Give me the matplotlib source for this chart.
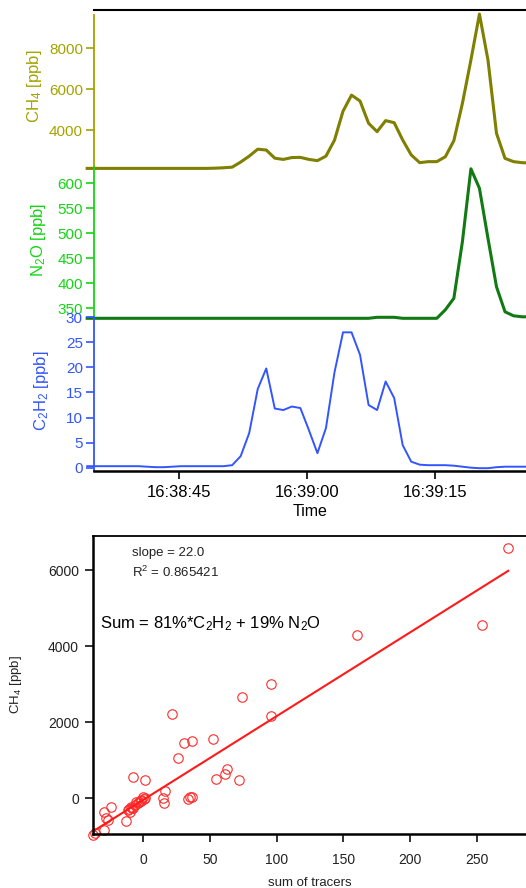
import numpy as np
import pandas as pd
import matplotlib
matplotlib.use("Agg")
import matplotlib.pyplot as plt
import matplotlib.dates as mdates

plt.rcParams['font.family'] = ['Liberation Sans', 'DejaVu Sans']
plt.rcParams['mathtext.fontset'] = 'custom'
plt.rcParams['mathtext.rm'] = 'Liberation Sans'
plt.rcParams['mathtext.it'] = 'Liberation Sans'

# --- time series (1 s samples) ---
times = pd.date_range("2000-01-01 16:38:34.200", periods=53, freq="1s")

ch4 = [2120] * 15 + [2130, 2150, 2180, 2430, 2720, 3060, 3020, 2620, 2560, 2650,
                     2660, 2560, 2500, 2720, 3500, 4920, 5710, 5420, 4330, 3920,
                     4460, 4360, 3510, 2780, 2400, 2450, 2450, 2690, 3480, 5300,
                     7430, 9680, 7430, 3840, 2610, 2450, 2400, 2380]

n2o = [330] * 34 + [332, 332, 332] + [330] * 5 + [347, 370, 483, 629, 590, 490,
                                                  393, 343, 335, 333, 333]

c2h2 = [0.3] * 7 + [0.2, 0.1, 0.1, 0.2] + [0.3] * 6 + [
    0.5, 2.3, 6.9, 15.7, 19.8, 11.8, 11.5, 12.2, 11.9, 7.5, 2.9, 7.9, 19.0, 27.0,
    27.0, 22.5, 12.5, 11.5, 17.2, 13.9, 4.5, 1.2, 0.6, 0.5, 0.5, 0.5, 0.4, 0.2,
    0.0, -0.1, -0.1, 0.1, 0.2, 0.2, 0.2, 0.2]

# --- scatter: CH4 excess vs weighted sum of tracers ---
tracer_sum = [21.3, 30.3, 36.3, 52.1, 25.8, -7.7, 1.0, 16.0, 14.8, 15.5, 33.5, 34.8,
              36.5, 54.3, 61.1, 62.8, 71.8, 74.0, 95.6, 95.6, 160.0, 254.3, 273.8,
              -24.0, -29.7, -26.5, -28.0, -12.8, -29.7, -36.5, -37.5, -11.5, -10.2,
              -9.0, -7.7, -6.5, -5.2, -4.0, -1.5, -0.2, 1.0, -8.5, -3.0, -2.0, 0.5,
              -10.8]
ch4_excess = [2210, 1460, 1500, 1560, 1050, 568, 481, 200, 0, -132, -26, 42,
              26, 516, 631, 771, 481, 2672, 2172, 2998, 4295, 4566, 6575,
              -220, -368, -570, -520, -597, -834, -921, -960, -308, -352,
              -220, -264, -177, -89, -133, -45, 43, 0, -250, -100, -60, -20,
              -290]
slope = 22.0
intercept = -40.0
r2 = 0.865421

ch4_line, ch4_axis = '#7f7f00', '#a3a300'
n2o_line, n2o_axis = '#127a12', '#14d414'
c2h2_col = '#3355ff'

W, H = 526, 888
fig = plt.figure(figsize=(W / 100, H / 100), dpi=100)


def px_axes(left, top, right, bottom):
    return fig.add_axes([left / W, 1 - bottom / H, (right - left) / W, (bottom - top) / H])


t0 = pd.Timestamp("2000-01-01 16:38:35")
t1 = t0 + pd.Timedelta(seconds=50.66)


def style_trace(ax, col, label, lab_x):
    ax.set_facecolor('none')
    for s in ['right', 'bottom', 'top']:
        ax.spines[s].set_visible(False)
    ax.spines['left'].set_color(col)
    ax.spines['left'].set_linewidth(1.3)
    ax.tick_params(axis='y', colors=col, labelsize=11, length=6, width=1.2, pad=2)
    ax.set_ylabel(label, color=col, fontsize=12)
    ax.yaxis.set_label_coords(lab_x, 0.52)
    ax.set_xlim(t0, t1)
    ax.xaxis.set_visible(False)


ax1 = px_axes(94, 10, 526, 169)
ax1.plot(times, ch4, color=ch4_line, lw=2.2, clip_on=False)
style_trace(ax1, ch4_axis, 'CH$_4$ [ppb]', -0.115)
ax1.set_ylim(2090, 9880)
ax1.set_yticks([4000, 6000, 8000])
ax1.spines['left'].set_bounds(2090, 9630)
ax1.spines['top'].set_visible(True)
ax1.spines['top'].set_color('black')
ax1.spines['top'].set_linewidth(1.5)

ax2 = px_axes(94, 167, 526, 318.5)
ax2.plot(times, n2o, color=n2o_line, lw=2.2, clip_on=False)
style_trace(ax2, n2o_axis, 'N$_2$O [ppb]', -0.107)
ax2.set_ylim(329.6, 632.6)
ax2.set_yticks([350, 400, 450, 500, 550, 600])

ax3 = px_axes(94, 317.3, 526, 471)
ax3.plot(times, c2h2, color=c2h2_col, lw=1.4, clip_on=False)
style_trace(ax3, c2h2_col, 'C$_2$H$_2$ [ppb]', -0.100)
ax3.set_ylim(-0.66, 30)
ax3.set_yticks([0, 5, 10, 15, 20, 25, 30])
ax3.xaxis.set_visible(True)
ax3.spines['bottom'].set_visible(True)
ax3.spines['bottom'].set_color('black')
ax3.spines['bottom'].set_linewidth(1.8)
ax3.xaxis.set_major_locator(mdates.SecondLocator(bysecond=[0, 15, 30, 45]))
ax3.xaxis.set_major_formatter(mdates.DateFormatter('%H:%M:%S'))
ax3.tick_params(axis='x', colors='black', labelsize=12, length=6, width=1.2, pad=4)
ax3.set_xlabel('Time', fontsize=11.5, labelpad=3)

# --- scatter panel ---
ax4 = px_axes(93, 536, 526, 834)
ax4.plot(tracer_sum, ch4_excess, 'o', mfc='none', mec='#ff2a2a', ms=6.8, mew=0.8,
         clip_on=False)
xs = np.array([min(tracer_sum), max(tracer_sum)])
ax4.plot(xs, slope * xs + intercept, color='#ff1a1a', lw=1.5)
ax4.set_xlim(-37.7, 287.1)
ax4.set_ylim(-939, 6899)
ax4.set_xticks([0, 50, 100, 150, 200, 250])
ax4.set_yticks([0, 2000, 4000, 6000])
ax4.spines['right'].set_visible(False)
for s in ['left', 'bottom']:
    ax4.spines[s].set_linewidth(1.8)
ax4.spines['top'].set_linewidth(1.3)
ax4.tick_params(axis='y', labelsize=10, length=6, width=1.3, colors='#222222', pad=4)
ax4.tick_params(axis='x', labelsize=10, length=6, width=1.3, colors='#222222', pad=8)
ax4.set_xlabel('sum of tracers', fontsize=9.5, color='#222222', labelpad=7)
ax4.set_ylabel('CH$_4$ [ppb]', fontsize=9.5, color='#222222')
ax4.yaxis.set_label_coords(-0.16, 0.5)
ax4.text(0.09, 0.943, 'slope = %.1f' % slope, transform=ax4.transAxes,
         fontsize=9.5, va='center', color='#222222')
ax4.text(0.09, 0.879, 'R$^2$ = %g' % r2, transform=ax4.transAxes,
         fontsize=9.5, va='center', color='#222222')
ax4.text(0.016, 0.705, 'Sum = 81%*C$_2$H$_2$ + 19% N$_2$O', transform=ax4.transAxes,
         fontsize=12, va='center', color='black')

fig.savefig('out.png', dpi=100)
